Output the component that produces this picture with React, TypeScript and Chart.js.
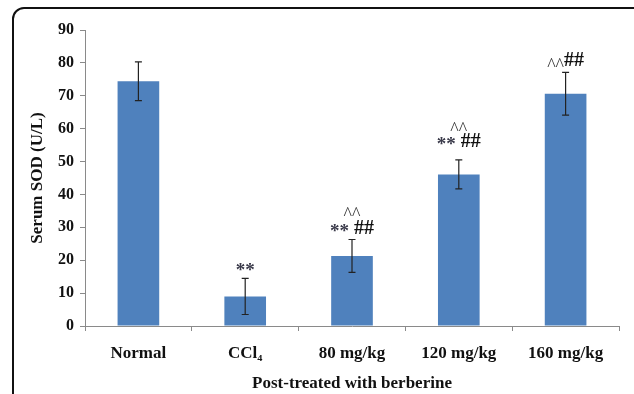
import React, { useEffect, useRef } from "react";
import { Chart, registerables } from "chart.js";

Chart.register(...registerables);

const categories = ["Normal", "CCl\u2084", "80 mg/kg", "120 mg/kg", "160 mg/kg"];
const meanValues = [74.4, 9.0, 21.3, 46.1, 70.6];
const errorValues = [5.9, 5.5, 5.0, 4.4, 6.5];
const yTicks = [0, 10, 20, 30, 40, 50, 60, 70, 80, 90];

// significance marks: each bar has lines of text (top line first) and the value level of each line
const markLines: string[][] = [[], ["**"], ["^^", "** ##"], ["^^", "** ##"], ["^^##"]];
const markLevels: number[][] = [[], [17.6], [35.3, 29.5], [61.1, 55.9], [80.6]];

const SERIF = "'Liberation Serif', 'Times New Roman', serif";

const overlayPlugin = {
  id: "overlay",
  afterDatasetsDraw(chart: any) {
    const { ctx } = chart;
    const meta = chart.getDatasetMeta(0);
    const y = chart.scales.y;
    ctx.save();
    meta.data.forEach((bar: any, i: number) => {
      const x = bar.x;
      const top = y.getPixelForValue(meanValues[i] + errorValues[i]);
      const bot = y.getPixelForValue(meanValues[i] - errorValues[i]);
      ctx.strokeStyle = "#222";
      ctx.lineWidth = 1.2;
      ctx.beginPath();
      ctx.moveTo(x, top);
      ctx.lineTo(x, bot);
      ctx.moveTo(x - 3.5, top);
      ctx.lineTo(x + 3.5, top);
      ctx.moveTo(x - 3.5, bot);
      ctx.lineTo(x + 3.5, bot);
      ctx.stroke();

      markLines[i].forEach((line, j) => {
        const ly = y.getPixelForValue(markLevels[i][j]);
        const runs: { t: string; f: string; c: string }[] = [];
        for (const ch of line) {
          const isCaret = ch === "^";
          const f = isCaret ? `normal 18px ${SERIF}` : ch === "*" ? `bold 19px ${SERIF}` : `bold 20px ${SERIF}`;
          const c = isCaret ? "#333" : ch === "*" ? "#3a3a4a" : "#111";
          const last = runs[runs.length - 1];
          if (last && last.f === f) last.t += ch;
          else runs.push({ t: ch, f, c });
        }
        let total = 0;
        const widths = runs.map((r) => {
          ctx.font = r.f;
          const w = ctx.measureText(r.t).width;
          total += w;
          return w;
        });
        let cx = x - total / 2;
        ctx.textBaseline = "middle";
        ctx.textAlign = "left";
        runs.forEach((r, k) => {
          ctx.font = r.f;
          ctx.fillStyle = r.c;
          const dy = r.t[0] === "^" ? 5 : r.t[0] === "*" ? 3 : 0;
          ctx.fillText(r.t, cx, ly + dy);
          cx += widths[k];
        });
      });
    });
    ctx.restore();
  },
};

export default function App() {
  const ref = useRef<HTMLCanvasElement | null>(null);
  useEffect(() => {
    if (!ref.current) return;
    const chart = new Chart(ref.current, {
      type: "bar",
      data: {
        labels: categories,
        datasets: [
          {
            data: meanValues,
            backgroundColor: "#4F81BD",
            borderWidth: 0,
            categoryPercentage: 1,
            barPercentage: 0.39,
          },
        ],
      },
      options: {
        animation: false,
        responsive: false,
        maintainAspectRatio: false,
        layout: { padding: { left: 0, right: 15, top: 30, bottom: 0 } },
        plugins: { legend: { display: false }, tooltip: { enabled: false } },
        scales: {
          x: {
            offset: true,
            grid: { offset: true, drawOnChartArea: false, tickLength: 5, color: "#8a8a8a", tickColor: "#8a8a8a" },
            border: { color: "#8a8a8a", width: 1 },
            ticks: { color: "#111", font: { family: SERIF, size: 17, weight: "bold" }, padding: 12 },
            title: {
              display: true,
              text: "Post-treated with berberine",
              color: "#111",
              font: { family: SERIF, size: 17, weight: "bold" },
              padding: { top: 0, bottom: 0 },
            },
            afterFit: (s: any) => {
              s.height = 68;
            },
          },
          y: {
            min: 0,
            max: 90,
            afterBuildTicks: (s: any) => {
              s.ticks = yTicks.map((v) => ({ value: v }));
            },
            grid: { drawOnChartArea: false, tickLength: 5, color: "#8a8a8a", tickColor: "#8a8a8a" },
            border: { color: "#8a8a8a", width: 1 },
            ticks: { color: "#111", font: { family: SERIF, size: 16, weight: "bold" }, padding: 6 },
            title: {
              display: true,
              text: "Serum SOD (U/L)",
              color: "#111",
              font: { family: SERIF, size: 17, weight: "bold" },
              padding: { top: 27, bottom: 0 },
            },
            afterFit: (s: any) => {
              s.width = 85;
            },
          },
        },
      },
      plugins: [overlayPlugin],
    } as any);
    return () => chart.destroy();
  }, []);
  return (
    <div style={{ position: "fixed", left: 0, top: 0, width: 634, height: 394, overflow: "hidden", background: "#fff" }}>
      <div
        style={{
          position: "absolute",
          left: 12,
          top: 7,
          width: 640,
          height: 420,
          border: "2px solid #111",
          borderRadius: 12,
          boxSizing: "border-box",
        }}
      />
      <canvas ref={ref} width={634} height={394} style={{ position: "absolute", left: 0, top: 0 }} />
    </div>
  );
}
